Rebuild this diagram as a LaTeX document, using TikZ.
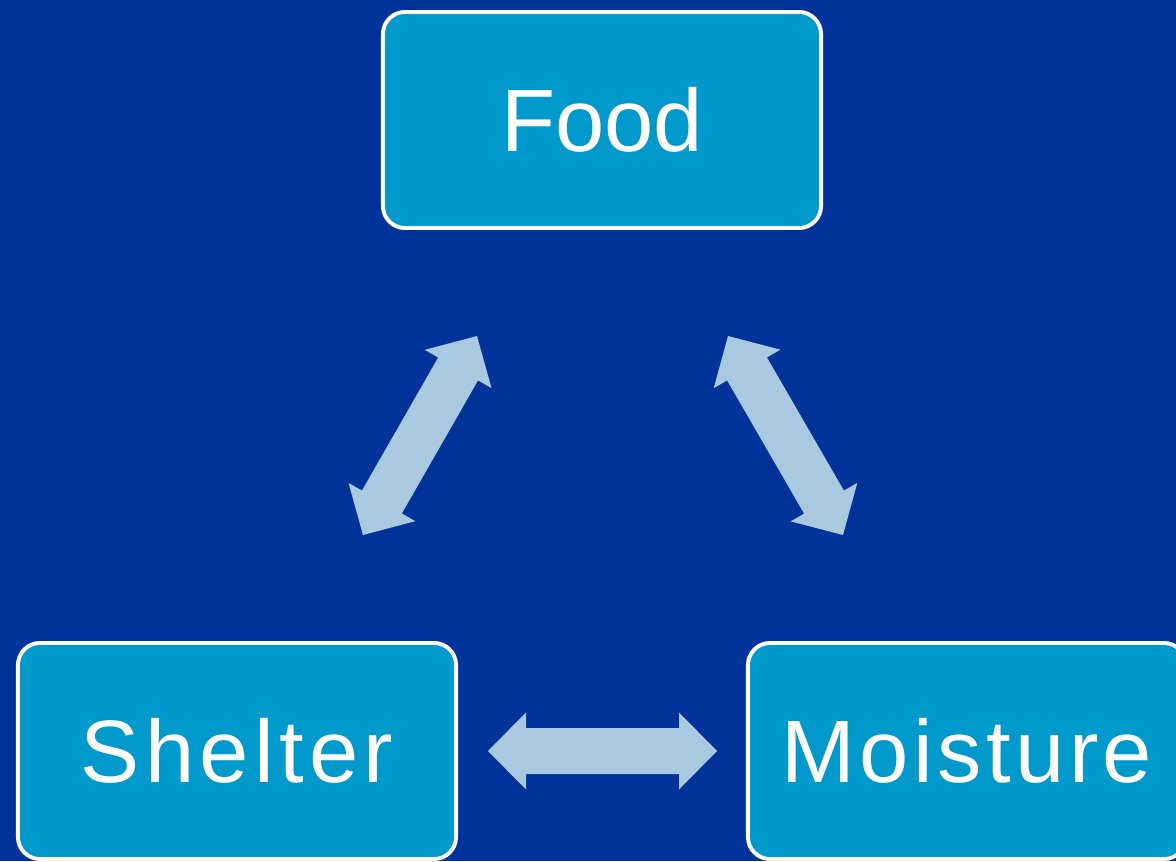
\documentclass[tikz,border=0pt]{standalone}
\usepackage{fontspec}
\setmainfont{Liberation Sans}
\usetikzlibrary{calc}
\definecolor{bgblue}{RGB}{0,51,153}
\definecolor{boxblue}{RGB}{0,153,204}
\definecolor{arrowblue}{RGB}{169,201,224}
\newcommand{\dblarrowshape}[2]{%
  \fill[arrowblue]
    (#1)
    -- ($($(#1)!0.95cm!(#2)$)!0.9625cm!-90:(#2)$)
    -- ($($(#1)!0.95cm!(#2)$)!0.575cm!-90:(#2)$)
    -- ($($(#2)!0.95cm!(#1)$)!0.575cm!90:(#1)$)
    -- ($($(#2)!0.95cm!(#1)$)!0.9625cm!90:(#1)$)
    -- (#2)
    -- ($($(#2)!0.95cm!(#1)$)!0.9625cm!-90:(#1)$)
    -- ($($(#2)!0.95cm!(#1)$)!0.575cm!-90:(#1)$)
    -- ($($(#1)!0.95cm!(#2)$)!0.575cm!90:(#2)$)
    -- ($($(#1)!0.95cm!(#2)$)!0.9625cm!90:(#2)$)
    -- cycle;}
\begin{document}
\begin{tikzpicture}[x=0.025cm,y=-0.025cm,
  box/.style={draw=white, line width=2.8pt, fill=boxblue, rounded corners=0.55cm,
    minimum width=10.95cm, minimum height=5.4cm, inner sep=0pt,
    text=white, font=\fontsize{63}{70}\selectfont}]
\fill[bgblue] (0,0) rectangle (1176,861);
\useasboundingbox (0,0) rectangle (1176,861);
\clip (0,0) rectangle (1176,861);
\node[box] (food) at (602,120) {Food};
\node[box] (shelter) at (237,751) {\addfontfeature{LetterSpace=6}Shelter};
\node[box] (moisture) at (967,751) {\addfontfeature{LetterSpace=5}Moisture};
\coordinate (l1) at (363,535);
\coordinate (l2) at (477,336);
\coordinate (r1) at (728,336);
\coordinate (r2) at (843,535);
\coordinate (h1) at (488,751);
\coordinate (h2) at (717,751);
\dblarrowshape{l1}{l2}
\dblarrowshape{r1}{r2}
\dblarrowshape{h1}{h2}
\end{tikzpicture}
\end{document}
